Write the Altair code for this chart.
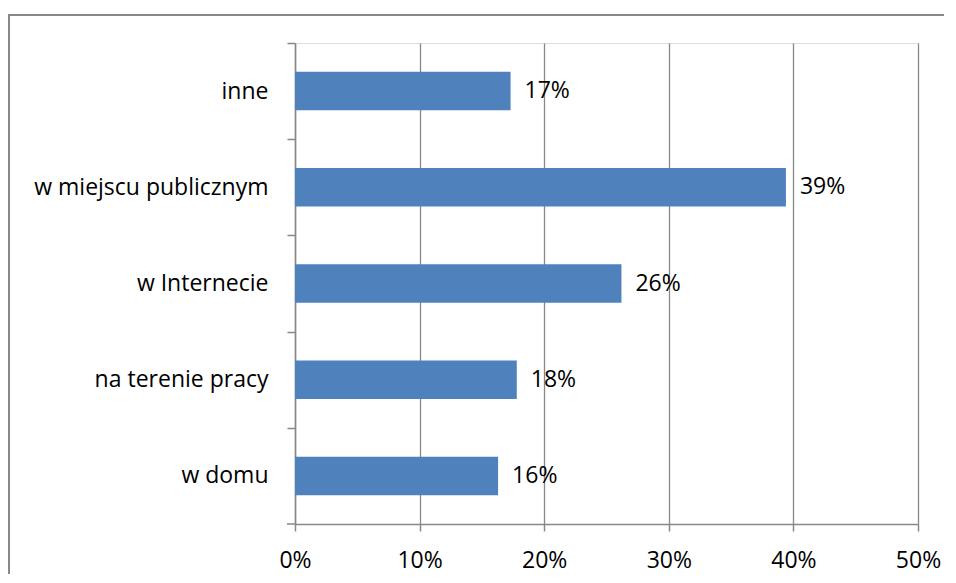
import altair as alt
import pandas as pd

categories = ["inne", "w miejscu publicznym", "w Internecie", "na terenie pracy", "w domu"]
values = [0.173, 0.394, 0.262, 0.178, 0.163]
x_ticks = [0, 0.1, 0.2, 0.3, 0.4, 0.5]

df = pd.DataFrame({"cat": categories, "val": values})

W, H = 623, 481
FONT = "Open Sans"
GRAY = "#888888"

base = alt.Chart(df)

bars = base.mark_bar(color="#4F81BD").encode(
    y=alt.Y("cat:N", sort=categories,
            scale=alt.Scale(paddingInner=0.6, paddingOuter=0.3),
            axis=alt.Axis(title=None, tickSize=8, tickColor=GRAY, tickWidth=1.5,
                          domainColor=GRAY, domainWidth=1.5,
                          tickOffset=-H / 10, labelOffset=H / 10,
                          labelPadding=19, labelFont=FONT, labelFontSize=23,
                          labelLimit=0, labelColor="black", grid=False)),
    x=alt.X("val:Q", scale=alt.Scale(domain=[0, 0.5], nice=False),
            axis=alt.Axis(title=None, values=x_ticks, format=".0%",
                          grid=True, gridColor=GRAY, gridWidth=1.3,
                          tickSize=7, tickColor=GRAY, tickWidth=1.5,
                          domainColor=GRAY, domainWidth=1.5, labelFlush=False,
                          labelPadding=18, labelFont=FONT, labelFontSize=23,
                          labelColor="black")),
)

labels = base.mark_text(align="left", baseline="middle", dx=14,
                        font=FONT, fontSize=23, color="black").encode(
    y=alt.Y("cat:N", sort=categories),
    x=alt.X("val:Q"),
    text=alt.Text("val:Q", format=".0%"),
)

one = alt.Chart(pd.DataFrame({"a": [0]}))
bottom_tick = one.mark_rule(color=GRAY, strokeWidth=1.5).encode(
    x=alt.value(-8), x2=alt.value(0), y=alt.value(H))
border_top = one.mark_rule(color=GRAY, strokeWidth=2).encode(
    x=alt.value(-287), x2=alt.value(W + 26), y=alt.value(-28))
border_left = one.mark_rule(color=GRAY, strokeWidth=2).encode(
    x=alt.value(-286), y=alt.value(-29), y2=alt.value(H + 50))

chart = alt.layer(border_top, border_left, bars, labels, bottom_tick).properties(
    width=W, height=H,
    padding={"left": 287, "top": 35, "right": 30, "bottom": 50},
    autosize=alt.AutoSizeParams(type="none"),
).configure_view(strokeWidth=0).configure(background="white")

chart.save("out.html", embed_options={"renderer": "svg", "actions": False})
